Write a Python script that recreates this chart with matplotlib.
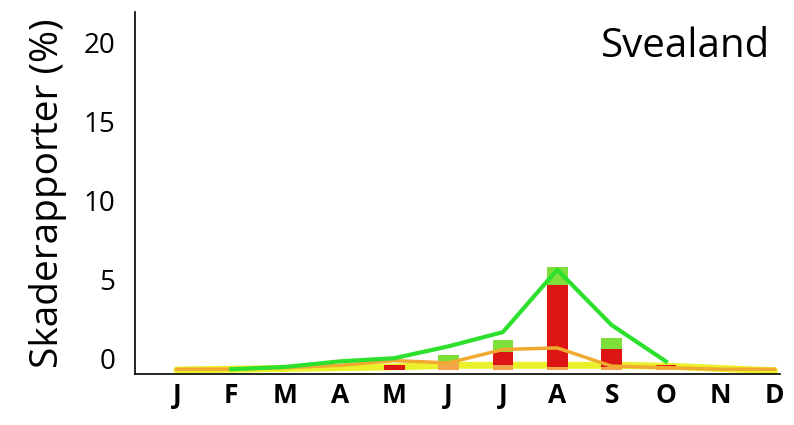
import numpy as np
import matplotlib
matplotlib.use("Agg")
import matplotlib.pyplot as plt

plt.rcParams['font.family'] = ['Open Sans', 'DejaVu Sans']

months = ['J', 'F', 'M', 'A', 'M', 'J', 'J', 'A', 'S', 'O', 'N', 'D']

# bar segments (heights, %), stacked from the baseline
base = -0.75
orange_bar = [0, 0, 0, 0, 0.0, 0.45, 0.3, 0.2, 0.2, 0.15, 0, 0]
red_bar    = [0, 0, 0, 0, 0.3, 0.0, 0.85, 5.2, 1.1, 0.15, 0, 0]
green_bar  = [0, 0, 0, 0, 0.0, 0.5, 0.75, 1.1, 0.7, 0.0, 0, 0]

# lines
green_line  = [np.nan, -0.7, -0.55, -0.2, 0.0, 0.75, 1.65, 5.6, 2.1, -0.2, np.nan, np.nan]
orange_line = [-0.7, -0.7, -0.6, -0.45, -0.15, -0.3, 0.55, 0.65, -0.5, -0.6, -0.7, -0.7]
yellow_line = [-0.75, -0.7, -0.65, -0.6, -0.55, -0.45, -0.45, -0.45, -0.45, -0.5, -0.65, -0.8]

yticks = [0, 5, 10, 15, 20]

x = np.arange(len(months))
fig = plt.figure(figsize=(7.94, 4.25), dpi=100)
ax = fig.add_axes([135/794, 1-374/425, (780-135)/794, (374-12)/425])

ob = np.array(orange_bar)
rb = np.array(red_bar)
gb = np.array(green_bar)
w = 0.38
ax.plot(x, yellow_line, color='#eaf02a', lw=5, zorder=2, solid_capstyle='round')
ax.bar(x, ob, w, bottom=base, color='#f2a54a', zorder=4)
ax.bar(x, rb, w, bottom=base + ob, color='#dd1515', zorder=4)
ax.bar(x, gb, w, bottom=base + ob + rb, color='#7ede3a', zorder=4)
ax.plot(x, orange_line, color='#f0aa30', lw=2.5, zorder=5)
ax.plot(x, green_line, color='#2ee02e', lw=3, zorder=6)

ax.set_xlim(-0.77, 11.1)
ax.set_ylim(-1.0, 21.9)
ax.set_xticks(x)
ax.set_xticklabels(months, fontsize=19, fontweight='bold')
ax.set_yticks(yticks)
ax.set_yticklabels([str(v) for v in yticks], fontsize=20)
ax.tick_params(axis='x', length=0, pad=6)
ax.tick_params(axis='y', length=0, pad=14)
for s in ['top', 'right']:
    ax.spines[s].set_visible(False)
for s in ['left', 'bottom']:
    ax.spines[s].set_linewidth(1.2)
ax.set_ylabel('Skaderapporter (%)', fontsize=28, labelpad=12)
ax.text(0.985, 0.905, 'Svealand', transform=ax.transAxes, ha='right', va='center', fontsize=29)

fig.savefig('out.png', dpi=100)
